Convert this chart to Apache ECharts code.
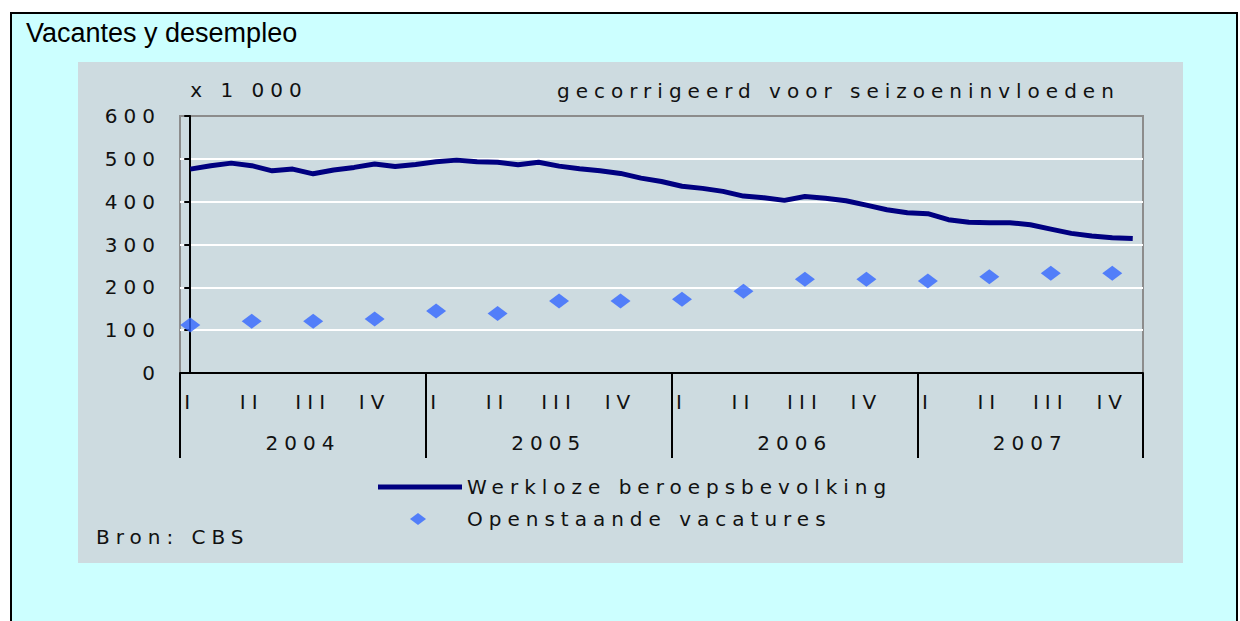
<!DOCTYPE html>
<html>
<head>
<meta charset="utf-8">
<title>Vacantes y desempleo</title>
<script src="https://cdn.jsdelivr.net/npm/echarts@6/dist/echarts.min.js"></script>
<style>
* { margin: 0; padding: 0; box-sizing: border-box; }
body { width: 1240px; height: 621px; background: #fff; overflow: hidden; position: relative; }
.frame { position: absolute; left: 10px; top: 12px; width: 1228px; height: 700px; border: 2px solid #000; background: #ccffff; }
.panel { position: absolute; left: 78px; top: 62px; width: 1105px; height: 501px; background: #cddbe0; }
#chart { position: absolute; left: 0; top: 0; width: 1240px; height: 621px; }
/* pixel-font look of the original: wide spacing */
#chart text[style*="DejaVu"] { letter-spacing: 6px; }
</style>
</head>
<body>
<div class="frame"></div>
<div class="panel"></div>
<div id="chart"></div>
<script>
const years = ['2004', '2005', '2006', '2007']
const quarters = ['I', 'II', 'III', 'IV']
const lastMonth = '2007-11'

// monthly categories, jan 2004 .. nov 2007
const months = []
for (const y of years) {
  for (let m = 1; m <= 12; m++) {
    const key = y + '-' + String(m).padStart(2, '0')
    if (months.length && months[months.length - 1] === lastMonth) break
    months.push(key)
  }
}

// Werkloze beroepsbevolking (x 1 000), per maand
const unemployed = [
  476, 484, 490, 484, 472, 476, 465, 474, 480, 488, 482, 487,
  493, 497, 493, 492, 486, 492, 483, 477, 472, 466, 455, 447,
  436, 431, 424, 413, 409, 403, 412, 408, 402, 392, 381, 374,
  372, 358, 352, 351, 351, 346, 336, 326, 320, 316, 314
]

// Openstaande vacatures (x 1 000), per kwartaal
const vacancies = [112, 121, 121, 126, 145, 139, 168, 168, 172, 191, 219, 219, 215, 225, 233, 233]

const FONT = 'DejaVu Sans'
const FS = 20
const TEXT = '#111'

// year separators and year label positions on the month scale
const yearEdges = years.map((y, i) => i * 12 - 0.5).concat(months.length - 0.5)
const yearMids = years.map((y, i) => (yearEdges[i] + yearEdges[i + 1]) / 2)

const chart = echarts.init(document.getElementById('chart'), null, { renderer: 'svg' })

chart.setOption({
  backgroundColor: 'transparent',
  animation: false,
  title: [
    {
      text: 'Vacantes y desempleo',
      left: 26, top: 19, padding: 0,
      textStyle: { fontFamily: 'Liberation Sans', fontSize: 27, fontWeight: 'normal', color: '#000' }
    },
    {
      text: 'gecorrigeerd voor seizoeninvloeden',
      left: 557, top: 81, padding: 0,
      textStyle: { fontFamily: FONT, fontSize: FS, fontWeight: 'normal', color: TEXT }
    },
    {
      text: 'Bron: CBS',
      left: 96, top: 527, padding: 0,
      textStyle: { fontFamily: FONT, fontSize: FS, fontWeight: 'normal', color: TEXT }
    }
  ],
  legend: {
    orient: 'vertical',
    left: 378, top: 477,
    padding: 0,
    itemWidth: 84, itemHeight: 14, itemGap: 12,
    textStyle: { fontFamily: FONT, fontSize: FS, color: TEXT },
    data: [
      { name: 'Werkloze beroepsbevolking', icon: 'path://M0,0M84,14M0,4.5L84,4.5L84,9.5L0,9.5Z' },
      { name: 'Openstaande vacatures', icon: 'path://M0,0M84,14M40,1L48,7L40,13L32,7Z' }
    ]
  },
  grid: {
    left: 180, right: 97, top: 116, bottom: 248,
    show: true, backgroundColor: 'transparent',
    borderColor: '#8c8c8c', borderWidth: 2
  },
  xAxis: [
    {
      type: 'category',
      data: months,
      position: 'bottom',
      boundaryGap: true,
      z: 1,
      axisLine: { lineStyle: { color: '#000', width: 2 } },
      axisTick: { show: false },
      axisLabel: {
        interval: i => i % 3 === 0,
        formatter: (v, i) => quarters[(i % 12) / 3],
        margin: 19,
        fontFamily: FONT, fontSize: FS, color: TEXT
      },
      splitLine: { show: false }
    },
    {
      type: 'value',
      position: 'bottom',
      min: -0.5, max: months.length - 0.5,
      z: 1,
      axisLine: { show: false },
      axisTick: { show: true, customValues: yearEdges, length: 85, lineStyle: { color: '#000', width: 2 } },
      axisLabel: {
        customValues: yearMids,
        formatter: v => years[Math.floor((v + 0.5) / 12)],
        margin: 60,
        fontFamily: FONT, fontSize: FS, color: TEXT
      },
      splitLine: { show: false }
    }
  ],
  yAxis: {
    type: 'value',
    min: 0, max: 600, interval: 100,
    name: 'x 1 000',
    nameLocation: 'end',
    nameGap: 16,
    nameTextStyle: { fontFamily: FONT, fontSize: FS, color: TEXT, align: 'left' },
    z: 1,
    axisLine: { show: true, lineStyle: { color: '#000', width: 2 } },
    axisTick: { show: true, length: 6, lineStyle: { color: '#000', width: 2 } },
    axisLabel: { margin: 19, fontFamily: FONT, fontSize: FS, color: TEXT },
    splitLine: { show: true, showMinLine: false, showMaxLine: false, lineStyle: { color: '#ffffff', width: 2 } }
  },
  series: [
    {
      name: 'Werkloze beroepsbevolking',
      type: 'line',
      data: unemployed,
      symbol: 'none',
      lineStyle: { color: '#000080', width: 5 },
      itemStyle: { color: '#000080' }
    },
    {
      name: 'Openstaande vacatures',
      type: 'scatter',
      data: vacancies.map((v, k) => [months[k * 3], v]),
      symbol: 'diamond',
      symbolSize: [20, 15],
      itemStyle: { color: '#3366ff' }
    }
  ]
})
</script>
</body>
</html>
